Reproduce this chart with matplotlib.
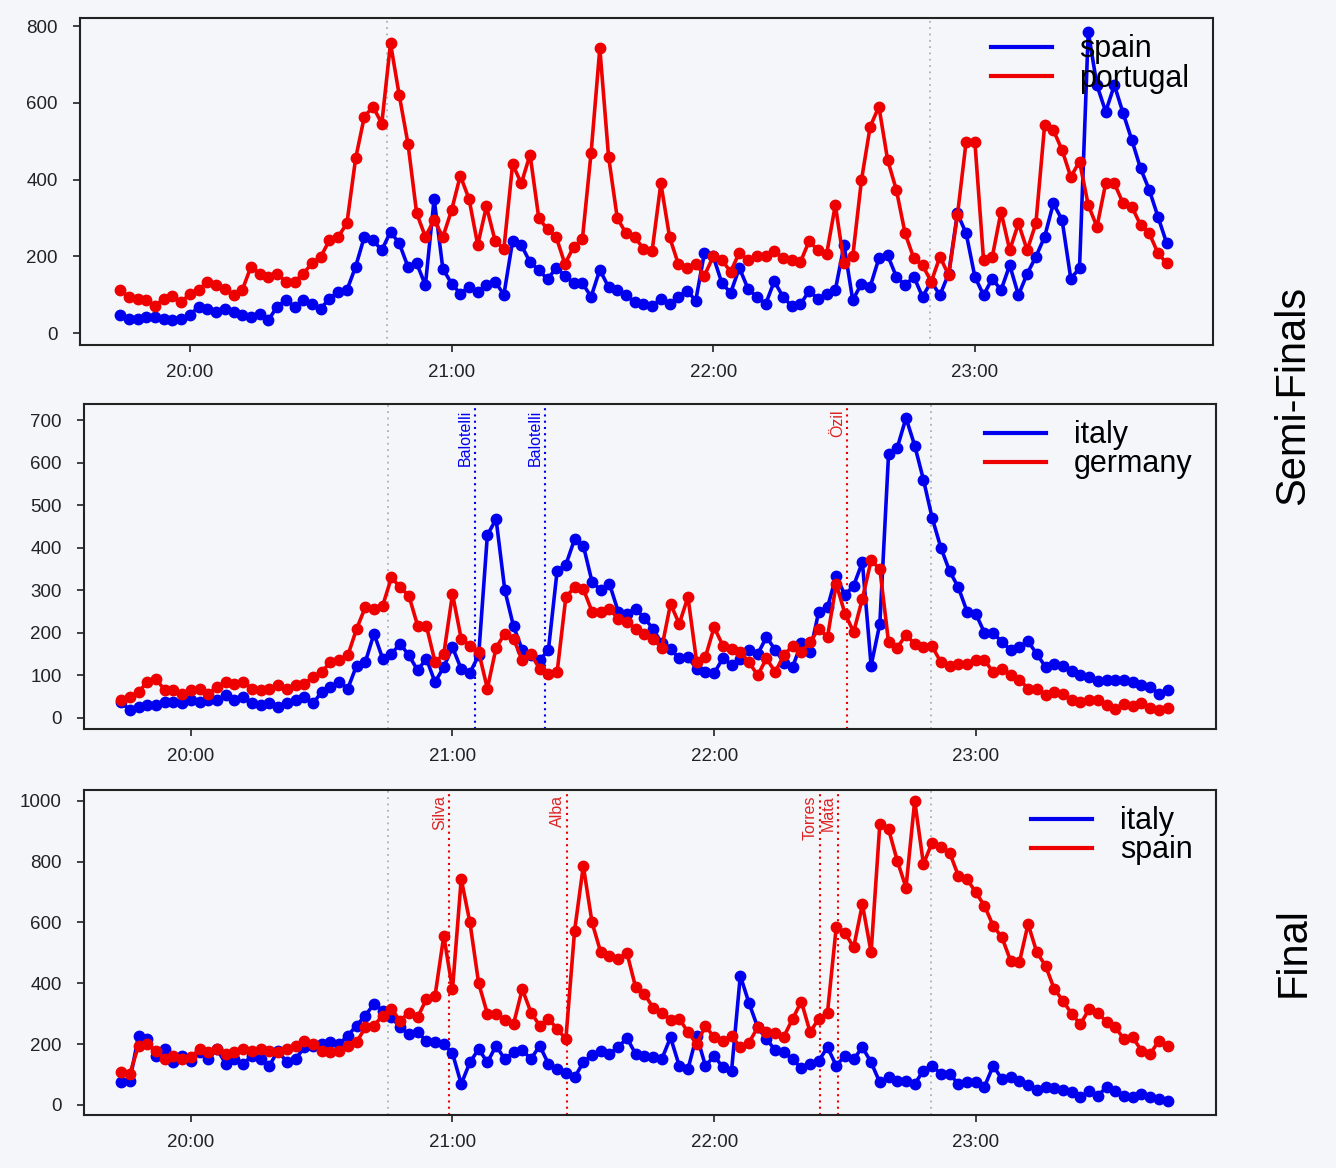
import numpy as np
import matplotlib
matplotlib.use('Agg')
import matplotlib.pyplot as plt
import matplotlib.dates as mdates

plt.rcParams['font.family'] = ['Liberation Sans', 'DejaVu Sans']

# tweets per minute, sampled every 2 minutes from 19:44 to 23:44
start = np.datetime64('2012-07-01T19:44')
minutes = np.arange(0, 241, 2)
times = start + minutes.astype('timedelta64[m]')

# semi-final 1
spain_sf = [47, 38, 38, 43, 43, 38, 34, 38, 47, 69, 64, 56, 64, 56, 47, 43, 51, 34, 69, 86,
            69, 86, 77, 64, 90, 108, 112, 173, 251, 242, 216, 264, 234, 173, 182, 125, 350, 168, 129, 103,
            121, 108, 125, 134, 100, 240, 229, 185, 165, 140, 170, 150, 130, 130, 95, 165, 120, 112, 100, 80,
            75, 70, 90, 75, 95, 110, 85, 210, 200, 130, 105, 170, 115, 95, 75, 135, 95, 70, 75, 110,
            90, 103, 112, 229, 86, 129, 121, 195, 203, 147, 125, 147, 95, 134, 99, 155, 312, 260, 147, 99,
            142, 112, 177, 99, 155, 199, 251, 338, 295, 142, 169, 785, 646, 577, 646, 573, 503, 429, 373, 303,
            234]
portugal_sf = [112, 95, 90, 86, 70, 90, 96, 80, 103, 112, 134, 125, 116, 99, 112, 173, 155, 147, 155, 134,
               134, 155, 182, 199, 242, 251, 286, 455, 564, 590, 546, 755, 620, 494, 312, 251, 295, 250, 320, 410,
               350, 230, 330, 240, 220, 440, 390, 465, 300, 270, 250, 180, 225, 245, 470, 742, 460, 300, 260, 250,
               220, 215, 390, 250, 180, 170, 180, 150, 200, 190, 160, 210, 190, 200, 200, 215, 195, 190, 185, 240,
               216, 205, 334, 182, 200, 399, 538, 590, 451, 373, 260, 195, 177, 134, 199, 151, 307, 499, 499, 190,
               199, 316, 216, 286, 216, 286, 542, 529, 477, 407, 447, 334, 277, 390, 390, 338, 329, 282, 260, 208,
               182]

# semi-final 2
italy_sf = [37, 18, 26, 30, 30, 37, 37, 34, 41, 37, 41, 41, 53, 41, 49, 34, 30, 34, 26, 34,
            41, 49, 34, 61, 73, 84, 69, 123, 131, 198, 139, 151, 174, 147, 112, 139, 84,
            120, 166, 115, 106, 147, 430, 467, 300, 215, 160, 147, 135, 160, 346, 360, 420, 405, 320, 300, 315,
            250, 245, 256, 235, 209, 175, 162, 140, 143, 115, 108, 105, 140, 125, 139, 160, 150, 190, 160, 130,
            120, 175, 155,
            250, 260, 334, 288, 311, 366, 123, 221, 620, 635, 705, 640, 560, 470, 400, 345, 307, 250, 245, 200,
            200, 178, 160, 166, 180, 150, 120, 127, 123, 110, 100, 96, 86, 88, 88, 90, 84, 77, 73, 57,
            65]
germany_sf = [41, 49, 61, 84, 92, 65, 65, 57, 65, 69, 57, 73, 84, 80, 84, 69, 65, 69, 77, 69,
              77, 80, 96, 108, 131, 135, 147, 209, 260, 256, 264, 330, 307, 287, 217, 217, 131,
              150, 291, 186, 170, 155, 69, 165, 198, 186, 135, 150, 115, 104, 108, 284, 307, 303, 250, 248, 256,
              233, 225, 210, 196, 185, 165, 268, 221, 284, 131, 143, 213, 170, 162, 155, 131, 100, 140, 108, 147,
              170, 155, 178,
              210, 190, 315, 245, 202, 280, 370, 350, 178, 165, 195, 174, 166, 168, 131, 123, 127, 127, 135, 135,
              108, 116, 100, 90, 69, 69, 53, 61, 55, 42, 37, 41, 41, 30, 22, 32, 28, 34, 24, 18,
              24]

# final
italy_f = [74, 80, 228, 217, 162, 184, 140, 162, 146, 173, 151, 184, 135, 151, 135, 162, 151, 129, 179, 140,
           151, 189, 195, 200, 206, 200, 228, 261, 294, 332, 310, 288, 255, 233, 239, 211, 206,
           200, 170, 69, 140, 184, 140, 195, 150, 173, 180, 151, 195, 135, 118, 105, 91, 140, 165, 179, 168,
           190, 220, 168, 162, 158, 151, 222, 129, 118, 228, 129, 160, 125, 113, 425, 335, 255, 217, 180, 173,
           151, 120, 135,
           145, 190, 129, 162, 150, 190, 140, 74, 91, 80, 80, 69, 113, 129, 102, 102, 69, 74, 74, 60,
           129, 85, 91, 80, 64, 50, 58, 55, 50, 42, 25, 47, 31, 58, 45, 31, 25, 36, 25, 20,
           14]
spain_f = [107, 102, 195, 200, 179, 151, 162, 151, 157, 184, 173, 184, 168, 173, 184, 179, 184, 179, 173, 184,
           195, 211, 200, 179, 173, 179, 195, 206, 255, 261, 294, 315, 277, 304, 288, 348, 359,
           556, 380, 743, 600, 400, 300, 300, 280, 266, 381, 304, 261, 283, 250, 217, 573, 786, 600, 502, 490,
           480, 500, 387, 365, 320, 304, 280, 283, 240, 200, 260, 222, 210, 228, 190, 205, 255, 240, 235, 225,
           283, 340, 240,
           283, 304, 584, 567, 518, 660, 502, 923, 907, 803, 715, 1000, 792, 863, 847, 830, 754, 743, 699, 655,
           589, 551, 474, 469, 595, 502, 458, 381, 343, 299, 266, 315, 304, 272, 255, 217, 222, 179, 168, 211,
           195]

match_marks = ['20:45:15', '22:49:45']

sf2_scorers = ['Balotelli', 'Balotelli', 'Özil']
sf2_goal_times = ['21:05:06', '21:21:12', '22:30:30']
sf2_goal_team = [0, 0, 1]

f_scorers = ['Silva', 'Alba', 'Torres', 'Mata']
f_goal_times = ['20:59:12', '21:26:18', '22:24:18', '22:28:24']
f_goal_team = [1, 1, 1, 1]


def at(hms):
    return mdates.date2num(np.datetime64('2012-07-01T' + hms))


BLUE = '#0000ee'
RED = '#ee0000'
BG = '#f5f6fa'

fig = plt.figure(figsize=(13.36, 11.68), dpi=100, facecolor=BG)

panels = [
    dict(rect=[0.0599, 0.7046, 0.848, 0.280], series=[spain_sf, portugal_sf], labels=['spain', 'portugal'],
         xlim=('19:34:48', '23:54:36'), ylim=(-31, 821), yticks=range(0, 801, 200), goals=None),
    dict(rect=[0.0629, 0.3759, 0.8473, 0.2783], series=[italy_sf, germany_sf], labels=['italy', 'germany'],
         xlim=('19:35:30', '23:55:06'), ylim=(-26, 738), yticks=range(0, 701, 100),
         goals=(sf2_scorers, sf2_goal_times, sf2_goal_team)),
    dict(rect=[0.0629, 0.0454, 0.8473, 0.2783], series=[italy_f, spain_f], labels=['italy', 'spain'],
         xlim=('19:35:30', '23:55:06'), ylim=(-33, 1036), yticks=range(0, 1001, 200),
         goals=(f_scorers, f_goal_times, f_goal_team)),
]

for p in panels:
    ax = fig.add_axes(p['rect'])
    ax.set_facecolor(BG)
    for vals, lab, col in zip(p['series'], p['labels'], [BLUE, RED]):
        ax.plot(times, vals, '-o', color=col, lw=2.6, ms=7.5, label=lab)
    for m in match_marks:
        ax.axvline(at(m), color='#b0b0b0', ls=(0, (1, 2.5)), lw=1.3, zorder=0)
    if p['goals']:
        names, gtimes, teams = p['goals']
        for name, gt, team in zip(names, gtimes, teams):
            col = [BLUE, '#dd2222'][team]
            x = at(gt)
            ax.axvline(x, color=[BLUE, RED][team], ls=(0, (1, 2)), lw=1.5, zorder=0)
            ax.annotate(name, xy=(x, 1), xycoords=('data', 'axes fraction'),
                        xytext=(-1.5, -4), textcoords='offset points',
                        rotation=90, ha='right', va='top', fontsize=11.5, color=col,
                        family=['Liberation Sans Narrow', 'Liberation Sans', 'DejaVu Sans'])
    ax.set_xlim(at(p['xlim'][0]), at(p['xlim'][1]))
    ax.set_ylim(*p['ylim'])
    ax.set_yticks(list(p['yticks']))
    ax.xaxis.set_major_locator(mdates.HourLocator())
    ax.xaxis.set_major_formatter(mdates.DateFormatter('%H:%M'))
    ax.tick_params(axis='both', labelsize=13.5, length=5, width=1.2, colors='#222222')
    ax.tick_params(axis='x', pad=9)
    ax.tick_params(axis='y', pad=11)
    for s in ax.spines.values():
        s.set_linewidth(1.5)
        s.set_color('#222222')
    leg = ax.legend(loc='upper right', bbox_to_anchor=(0.99, 0.987), frameon=False, fontsize=22,
                    handlelength=2.0, handletextpad=0.9, labelspacing=-0.03, borderaxespad=0)
    for line in leg.get_lines():
        line.set_linewidth(3)
        line.set_marker('')

fig.text(0.968, 1 - 395 / 1168, 'Semi-Finals', rotation=90, fontsize=30, ha='center', va='center')
fig.text(0.968, 1 - 952 / 1168, 'Final', rotation=90, fontsize=30, ha='center', va='center')

fig.savefig('out.png', dpi=100, facecolor=BG)
